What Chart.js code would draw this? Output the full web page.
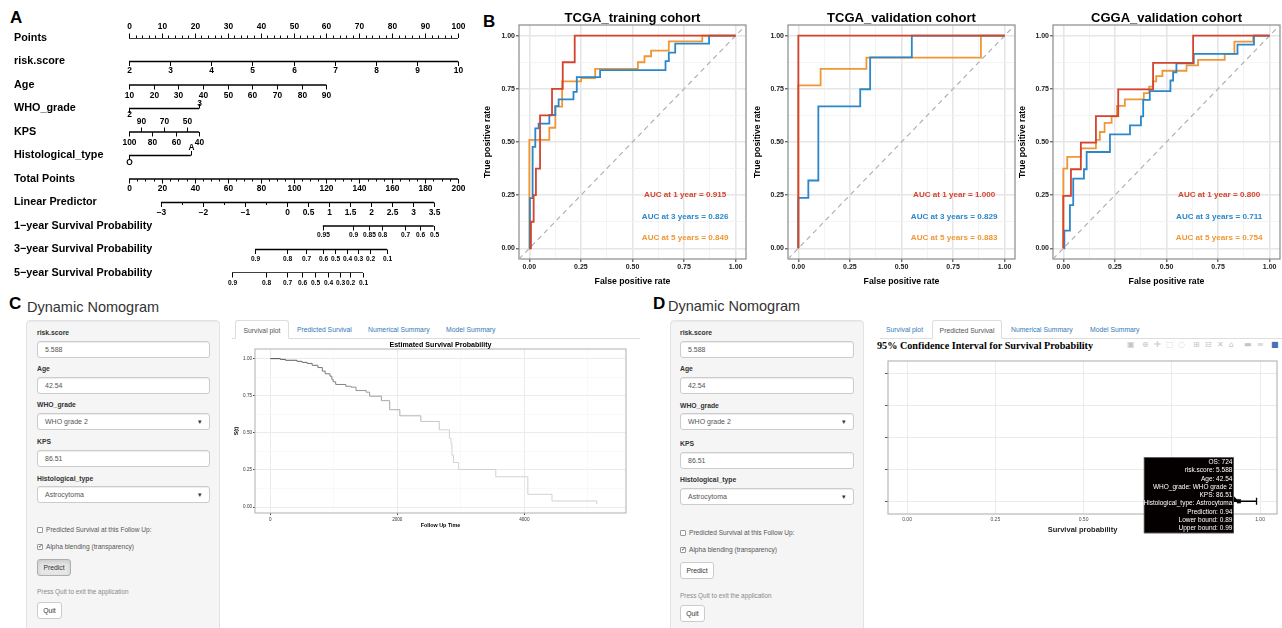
<!DOCTYPE html>
<html>
<head>
<meta charset="utf-8">
<script src="https://cdn.jsdelivr.net/npm/chart.js@4.4.1/dist/chart.umd.min.js"></script>
<style>
html,body{margin:0;padding:0;background:#fff;}
#page{position:relative;width:1282px;height:628px;overflow:hidden;font-family:"Liberation Sans",Arial,Helvetica,sans-serif;color:#333;}
#page canvas{position:absolute;}
.letter{position:absolute;font-weight:bold;font-size:17px;color:#000;line-height:20px;}
.dyn{position:absolute;font-size:14.5px;color:#333;line-height:18px;white-space:nowrap;}
.well{position:absolute;background:#f5f5f5;border:1px solid #e3e3e3;border-radius:4px;box-shadow:inset 0 1px 1px rgba(0,0,0,.05);box-sizing:border-box;}
.lbl{position:absolute;font-weight:bold;font-size:6.8px;color:#333;line-height:10px;height:10px;white-space:nowrap;}
.inp{position:absolute;background:#fff;border:1px solid #ccc;border-radius:3px;box-shadow:inset 0 1px 1px rgba(0,0,0,.075);font-size:7px;color:#555;box-sizing:border-box;padding-left:7px;line-height:15px;height:17px;white-space:nowrap;}
.arr{position:absolute;right:7px;top:0;font-size:7px;color:#333;line-height:15px;}
.cb{position:absolute;width:6px;height:6px;border:1px solid #999;background:#fff;box-sizing:border-box;border-radius:1px;}
.cbt{position:absolute;font-size:6.6px;color:#555;line-height:10px;white-space:nowrap;}
.btn{position:absolute;border:1px solid #ccc;border-radius:3px;background:#fff;font-size:6.8px;color:#333;text-align:center;line-height:15px;height:17px;box-sizing:border-box;}
.btn.pressed{background:#e6e6e6;border-color:#adadad;box-shadow:inset 0 2px 4px rgba(0,0,0,.125);}
.help{position:absolute;font-size:6.4px;color:#8a8a8a;line-height:10px;white-space:nowrap;}
.strip{position:absolute;height:0;border-bottom:1px solid #ddd;}
.tab{position:absolute;font-size:6.8px;line-height:19px;height:19px;white-space:nowrap;color:#337ab7;}
.tab.active{color:#555;background:#fff;border:1px solid #ddd;border-bottom-color:#fff;border-radius:3px 3px 0 0;box-sizing:border-box;text-align:center;}
.ci-title{position:absolute;font-family:"Liberation Serif","Times New Roman",serif;font-weight:bold;font-size:10.2px;color:#000;line-height:12px;white-space:nowrap;}
.icon{position:absolute;font-family:"DejaVu Sans",sans-serif;font-size:8px;color:#c4c4c4;line-height:10px;}
</style>
</head>
<body>
<div id="page">
  <div class="letter" style="left:10px;top:8px;">A</div>
  <canvas id="nomo" width="480" height="292" style="left:0;top:0;"></canvas>

  <div class="letter" style="left:483px;top:12px;">B</div>
  <canvas id="roc1" width="270" height="290" style="left:480px;top:0;"></canvas>
  <canvas id="roc2" width="268" height="290" style="left:750px;top:0;"></canvas>
  <canvas id="roc3" width="268" height="290" style="left:1014px;top:0;"></canvas>

  <div class="letter" style="left:9px;top:294px;">C</div>
  <div class="dyn" style="left:27px;top:298px;">Dynamic Nomogram</div>
  <div class="letter" style="left:653px;top:294px;">D</div>
  <div class="dyn" style="left:668px;top:297px;">Dynamic Nomogram</div>

  <div id="uiC"></div>
  <div id="uiD"></div>

  <canvas id="surv" width="408" height="192" style="left:232px;top:340px;"></canvas>
  <div class="ci-title" style="left:877px;top:340px;">95% Confidence Interval for Survival Probability</div>
  <div id="icons"></div>
  <canvas id="ci" width="402" height="188" style="left:880px;top:352px;"></canvas>
</div>

<script>
// ---------------- DATA ----------------
// Panel A: nomogram (tick labels and their position on the 0-100 Points scale)
const pointsLabels = [0, 10, 20, 30, 40, 50, 60, 70, 80, 90, 100];
const riskScoreLabels = ['2', '3', '4', '5', '6', '7', '8', '9', '10'];
const riskScorePoints = [0, 12.5, 25, 37.5, 50, 62.5, 75, 87.5, 100];
const ageLabels = ['10', '20', '30', '40', '50', '60', '70', '80', '90'];
const agePoints = [0, 7.5, 15, 22.5, 30, 37.5, 45, 52.5, 60];
const whoGradeLabels = ['2', '3'];
const whoGradePoints = [0, 21.3];
const kpsLabels = ['100', '90', '80', '70', '60', '50', '40'];
const kpsPoints = [0, 3.55, 7.1, 10.65, 14.2, 17.75, 21.3];
const histTypeLabels = ['O', 'A'];
const histTypePoints = [0, 18.8];
const totalPointsLabels = [0, 20, 40, 60, 80, 100, 120, 140, 160, 180, 200];
const linPredLabels = ['\u22123', '\u22122', '\u22121', '0', '0.5', '1', '1.5', '2', '2.5', '3', '3.5'];
const linPredPoints = [9.7, 22.5, 35.2, 48.0, 54.4, 60.8, 67.2, 73.6, 79.9, 86.3, 92.7];
const linPredMinorPoints = [16.1, 28.85, 41.6];
const surv1Labels = ['0.95', '0.9', '0.85', '0.8', '0.7', '0.6', '0.5'];
const surv1Points = [58.9, 68.1, 72.9, 77.0, 83.8, 88.6, 92.6];
const surv3Labels = ['0.9', '0.8', '0.7', '0.6', '0.5', '0.4', '0.3', '0.2', '0.1'];
const surv3Points = [38.3, 48.0, 53.8, 59.0, 62.6, 66.3, 69.6, 73.3, 78.4];
const surv5Labels = ['0.9', '0.8', '0.7', '0.6', '0.5', '0.4', '0.3', '0.2', '0.1'];
const surv5Points = [31.3, 41.6, 48.0, 52.6, 56.5, 60.5, 64.1, 67.2, 71.1];
const nomoRowNames = ['Points', 'risk.score', 'Age', 'WHO_grade', 'KPS', 'Histological_type', 'Total Points',
  'Linear Predictor', '1\u2212year Survival Probability', '3\u2212year Survival Probability', '5\u2212year Survival Probability'];

// Panel B: ROC curves (false positive rate / true positive rate)
const rocTitles = ['TCGA_training cohort', 'TCGA_validation cohort', 'CGGA_validation cohort'];
const aucNames = ['AUC at 1 year', 'AUC at 3 years', 'AUC at 5 years'];
const trainAuc = [0.915, 0.826, 0.849];
const tcgaValAuc = [1.000, 0.829, 0.883];
const cggaValAuc = [0.800, 0.711, 0.754];
const rocTickValues = [0, 0.125, 0.25, 0.375, 0.5, 0.625, 0.75, 0.875, 1];

const trainFpr1 = [0, 0.008, 0.021, 0.032, 0.052, 0.11, 0.162, 0.22, 1];
const trainTpr1 = [0, 0.125, 0.25, 0.375, 0.625, 0.75, 0.875, 1, 1];
const trainFpr3 = [0, 0.003, 0.016, 0.029, 0.045, 0.097, 0.126, 0.142, 0.214, 0.23, 0.343, 0.66, 0.676, 0.707, 0.871, 1];
const trainTpr3 = [0, 0.236, 0.477, 0.564, 0.586, 0.627, 0.669, 0.70, 0.736, 0.805, 0.8375, 0.88, 0.92, 0.9625, 1, 1];
const trainFpr5 = [0, 0, 0.097, 0.126, 0.159, 0.251, 0.319, 0.526, 0.558, 0.59, 0.676, 0.838, 1];
const trainTpr5 = [0, 0.51, 0.567, 0.666, 0.785, 0.80, 0.844, 0.875, 0.903, 0.93, 0.973, 1, 1];

const tcgaValFpr1 = [0, 0, 1];
const tcgaValTpr1 = [0, 1, 1];
const tcgaValFpr3 = [0, 0, 0.0485, 0.097, 0.30, 0.348, 0.55, 1];
const tcgaValTpr3 = [0, 0.2375, 0.319, 0.667, 0.748, 0.898, 1, 1];
const tcgaValFpr5 = [0, 0, 0.108, 0.33, 0.885, 1];
const tcgaValTpr5 = [0, 0.766, 0.844, 0.897, 1, 1];

const cggaFpr1 = [0, 0, 0.037, 0.085, 0.158, 0.266, 0.435, 0.629, 1];
const cggaTpr1 = [0, 0.247, 0.372, 0.497, 0.622, 0.747, 0.872, 1, 1];
const cggaFpr3 = [0, 0.005, 0.032, 0.048, 0.1, 0.113, 0.226, 0.323, 0.376, 0.387, 0.419, 0.519, 0.532, 0.548, 0.632, 0.844, 0.924, 1];
const cggaTpr3 = [0, 0.083, 0.203, 0.328, 0.372, 0.453, 0.536, 0.578, 0.62, 0.698, 0.739, 0.789, 0.828, 0.87, 0.914, 0.958, 1, 1];
const cggaFpr5 = [0, 0, 0.019, 0.085, 0.158, 0.177, 0.2, 0.234, 0.26, 0.298, 0.39, 0.416, 0.435, 0.45, 0.48, 0.597, 0.653, 0.782, 0.829, 0.92, 1];
const cggaTpr5 = [0, 0.375, 0.43, 0.47, 0.51, 0.547, 0.59, 0.62, 0.67, 0.70, 0.73, 0.76, 0.785, 0.81, 0.835, 0.86, 0.886, 0.914, 0.972, 1, 1];

// Panel C: estimated survival curve
const survTime = [0, 160, 240, 420, 500, 580, 660, 750, 820, 865, 940, 970, 990, 1030, 1190, 1270, 1350, 1510, 1565, 1750, 1880, 2040, 2370, 2660, 2820, 2845, 2860, 2885, 2965, 3550, 4055, 4435, 5140];
const survProb = [1.0, 0.995, 0.989, 0.982, 0.975, 0.968, 0.955, 0.94, 0.916, 0.898, 0.882, 0.86, 0.844, 0.826, 0.814, 0.808, 0.785, 0.774, 0.747, 0.717, 0.656, 0.615, 0.577, 0.52, 0.464, 0.43, 0.35, 0.30, 0.253, 0.204, 0.086, 0.041, 0.02];
const survXTicks = [0, 2000, 4000];
const survYTicks = [0, 0.25, 0.5, 0.75, 1];

// Panel D: 95% CI for survival probability
const ciPrediction = [0.94];
const ciLower = [0.89];
const ciUpper = [0.99];
const ciXTicks = [0, 0.25, 0.5, 0.75, 1];
const ciTooltipLines = ['OS: 724', 'risk.score: 5.588', 'Age: 42.54', 'WHO_grade: WHO grade 2', 'KPS: 86.51',
  'Histological_type: Astrocytoma', 'Prediction: 0.94', 'Lower bound: 0.89', 'Upper bound: 0.99'];

// Panels C/D: app inputs
const inputLabels = ['risk.score', 'Age', 'WHO_grade', 'KPS', 'Histological_type'];
const inputValues = ['5.588', '42.54', 'WHO grade 2', '86.51', 'Astrocytoma'];
const inputIsSelect = [false, false, true, false, true];
const tabNames = ['Survival plot', 'Predicted Survival', 'Numerical Summary', 'Model Summary'];

// ---------------- RENDERING ----------------
const SANS = '"Liberation Sans", Arial, Helvetica, sans-serif';
Chart.defaults.font.family = SANS;
Chart.defaults.color = '#000';
Chart.defaults.animation = false;

const RED = '#D5432F', BLUE = '#2A87CA', ORANGE = '#F09735';

// ---------- Panel A: nomogram ----------
const nomoRows = [
  { labels: pointsLabels.map(String), pos: pointsLabels, side: 'above', fs: 8.4, offA: 11, offB: 9, minorStep: 2, range: [0, 100] },
  { labels: riskScoreLabels, pos: riskScorePoints, side: 'below', fs: 8.4, offA: 10, offB: 9.5 },
  { labels: ageLabels, pos: agePoints, side: 'below', fs: 8.4, offA: 10, offB: 10.5 },
  { labels: whoGradeLabels, pos: whoGradePoints, side: ['below', 'above'], fs: 8.4, offA: 4.5, offB: 6 },
  { labels: kpsLabels, pos: kpsPoints, side: ['below', 'above', 'below', 'above', 'below', 'above', 'below'], fs: 8.4, offA: 10.5, offB: 10.5 },
  { labels: histTypeLabels, pos: histTypePoints, side: ['below', 'above'], fs: 8.4, offA: 8, offB: 7 },
  { labels: totalPointsLabels.map(String), pos: totalPointsLabels.map(v => v / 2), side: 'below', fs: 8.4, offA: 10, offB: 10, minorStep: 2.5, range: [0, 100] },
  { labels: linPredLabels, pos: linPredPoints, side: 'below', fs: 8.4, offA: 10, offB: 10.5, minor: linPredMinorPoints },
  { labels: surv1Labels, pos: surv1Points, side: 'below', fs: 6.6, offA: 9, offB: 9 },
  { labels: surv3Labels, pos: surv3Points, side: 'below', fs: 6.6, offA: 9, offB: 9.5 },
  { labels: surv5Labels, pos: surv5Points, side: 'below', fs: 6.6, offA: 9, offB: 10 }
];

const nomoPlugin = {
  id: 'nomo',
  afterDatasetsDraw(chart) {
    const { ctx, scales: { x, y } } = chart;
    ctx.save();
    ctx.fillStyle = '#000';
    ctx.strokeStyle = '#000';
    ctx.lineWidth = 1;
    nomoRows.forEach((row, i) => {
      const ly = y.getPixelForValue(i);
      ctx.font = 'bold 10.8px ' + SANS;
      ctx.textAlign = 'left';
      ctx.textBaseline = 'middle';
      ctx.fillText(nomoRowNames[i], 14, ly);
      const sideOf = k => Array.isArray(row.side) ? row.side[k] : row.side;
      const minors = [];
      if (row.minorStep) {
        for (let v = row.range[0]; v <= row.range[1] + 1e-9; v += row.minorStep) minors.push(v);
      }
      if (row.minor) minors.push(...row.minor);
      minors.forEach(v => {
        const px = Math.round(x.getPixelForValue(v)) + 0.5;
        const d = sideOf(0) === 'above' ? -1 : 1;
        ctx.beginPath(); ctx.moveTo(px, ly); ctx.lineTo(px, ly + d * 2.5); ctx.stroke();
      });
      row.pos.forEach((p, k) => {
        const s = sideOf(k);
        const d = s === 'above' ? -1 : 1;
        const px = Math.round(x.getPixelForValue(p)) + 0.5;
        ctx.beginPath(); ctx.moveTo(px, ly); ctx.lineTo(px, ly + d * 4.5); ctx.stroke();
        ctx.font = 'bold ' + row.fs + 'px ' + SANS;
        ctx.textAlign = 'center';
        ctx.fillText(row.labels[k], px, ly + (s === 'above' ? -row.offA : row.offB));
      });
    });
    ctx.restore();
  }
};

new Chart(document.getElementById('nomo'), {
  type: 'scatter',
  data: {
    datasets: nomoRows.map((row, i) => ({
      data: [{ x: Math.min(...row.pos), y: i }, { x: Math.max(...row.pos), y: i }],
      showLine: true, borderColor: '#000', borderWidth: 1.4, pointRadius: 0
    }))
  },
  options: {
    responsive: false,
    layout: { padding: { left: 129, right: 22, top: 38, bottom: 19 } },
    plugins: { legend: { display: false }, tooltip: { enabled: false } },
    scales: {
      x: { type: 'linear', min: 0, max: 100, display: false },
      y: { type: 'linear', min: 0, max: 10, reverse: true, display: false }
    }
  },
  plugins: [nomoPlugin]
});

// ---------- Panel B: ROC ----------
const isMajor = v => Math.abs(v * 4 - Math.round(v * 4)) < 1e-6;
const toPts = (xs, ys) => xs.map((v, i) => ({ x: v, y: ys[i] }));

function rocChart(id, title, curves, aucVals, yAxisW, rightPad, yTitlePad) {
  const colors = [RED, BLUE, ORANGE];
  const datasets = curves.map((c, k) => ({
    data: toPts(c[0], c[1]), showLine: true, stepped: 'before',
    borderColor: colors[k], borderWidth: 1.8, pointRadius: 0
  }));
  datasets.push({
    data: [{ x: -0.05, y: -0.05 }, { x: 1.05, y: 1.05 }], showLine: true,
    borderColor: '#ABABAB', borderWidth: 1.1, borderDash: [5, 4], pointRadius: 0
  });
  const plug = {
    id: 'rocDeco',
    beforeDatasetsDraw(chart) {
      const { ctx, chartArea: a } = chart;
      ctx.save();
      ctx.strokeStyle = '#8A8A8A'; ctx.lineWidth = 1.2;
      ctx.strokeRect(a.left, a.top, a.right - a.left, a.bottom - a.top);
      ctx.restore();
    },
    afterDatasetsDraw(chart) {
      const { ctx, chartArea: a, scales: { x, y } } = chart;
      ctx.save();
      ctx.font = 'bold 8.1px ' + SANS;
      ctx.textAlign = 'center'; ctx.textBaseline = 'middle';
      const ys = [0.25, 0.15, 0.05];
      aucVals.forEach((v, k) => {
        ctx.fillStyle = colors[k];
        ctx.fillText(aucNames[k] + ' = ' + v.toFixed(3), x.getPixelForValue(0.755), y.getPixelForValue(ys[k]));
      });
      ctx.fillStyle = '#000';
      ctx.font = 'bold 13px ' + SANS;
      ctx.fillText(title, (a.left + a.right) / 2, 18);
      ctx.restore();
    }
  };
  const axis = (isX) => ({
    type: 'linear', min: -0.05, max: 1.05,
    afterBuildTicks: s => { s.ticks = rocTickValues.map(v => ({ value: v })); },
    afterFit: s => { if (isX) s.height = 31; else s.width = yAxisW; },
    border: { display: false },
    grid: {
      color: c => isMajor(c.tick.value) ? '#E6E6E6' : '#F1F1F1',
      lineWidth: c => isMajor(c.tick.value) ? 1.6 : 0.8,
      drawTicks: true, tickLength: 3,
      tickColor: c => isMajor(c.tick.value) ? '#333' : 'rgba(0,0,0,0)', tickWidth: 1
    },
    ticks: {
      autoSkip: false, maxRotation: 0, padding: 1,
      font: { size: 7, weight: 'bold' }, color: '#222',
      callback: v => isMajor(v) ? v.toFixed(2) : ''
    },
    title: {
      display: true, text: isX ? 'False positive rate' : 'True positive rate',
      font: { size: 8.7, weight: 'bold' }, color: '#000',
      padding: isX ? { top: 0, bottom: 3 } : { top: yTitlePad, bottom: 0 }
    }
  });
  new Chart(document.getElementById(id), {
    type: 'scatter',
    data: { datasets },
    options: {
      responsive: false,
      layout: { padding: { left: 0, right: rightPad, top: 25, bottom: 0 } },
      plugins: { legend: { display: false }, tooltip: { enabled: false } },
      scales: { x: axis(true), y: axis(false) }
    },
    plugins: [plug]
  });
}

rocChart('roc1', rocTitles[0], [[trainFpr1, trainTpr1], [trainFpr3, trainTpr3], [trainFpr5, trainTpr5]], trainAuc, 39, 4, 2);
rocChart('roc2', rocTitles[1], [[tcgaValFpr1, tcgaValTpr1], [tcgaValFpr3, tcgaValTpr3], [tcgaValFpr5, tcgaValTpr5]], tcgaValAuc, 38, 3, 2);
rocChart('roc3', rocTitles[2], [[cggaFpr1, cggaTpr1], [cggaFpr3, cggaTpr3], [cggaFpr5, cggaTpr5]], cggaValAuc, 39, 2, 3);

// ---------- Panels C/D: app UI ----------
function buildUI(rootId, P) {
  const root = document.getElementById(rootId);
  let h = '';
  h += `<div class="well" style="left:${P.wl}px;top:320px;width:${P.ww}px;height:320px;"></div>`;
  inputLabels.forEach((lab, i) => {
    h += `<div class="lbl" style="left:${P.il}px;top:${P.ly[i] - 5}px;">${lab}</div>`;
    h += `<div class="inp" style="left:${P.il}px;top:${P.iy[i]}px;width:${P.iw}px;">${inputValues[i]}` +
      (inputIsSelect[i] ? '<span class="arr">\u25BE</span>' : '') + '</div>';
  });
  h += `<div class="cb" style="left:${P.il}px;top:${P.cb[0] - 3}px;"></div>`;
  h += `<div class="cbt" style="left:${P.il + 9}px;top:${P.cb[0] - 5}px;">Predicted Survival at this Follow Up:</div>`;
  h += `<div class="cb" style="left:${P.il}px;top:${P.cb[1] - 3}px;"><span style="position:absolute;left:0px;top:-3px;font-size:6px;color:#333;">\u2713</span></div>`;
  h += `<div class="cbt" style="left:${P.il + 9}px;top:${P.cb[1] - 5}px;">Alpha blending (transparency)</div>`;
  h += `<div class="btn${P.pressed ? ' pressed' : ''}" style="left:${P.il}px;top:${P.pb}px;width:34px;">Predict</div>`;
  h += `<div class="help" style="left:${P.il}px;top:${P.hq - 5}px;">Press Quit to exit the application</div>`;
  h += `<div class="btn" style="left:${P.il}px;top:${P.qb}px;width:25px;">Quit</div>`;
  h += `<div class="strip" style="left:${P.sl}px;top:338px;width:${P.sw}px;"></div>`;
  tabNames.forEach((t, i) => {
    if (i === P.active) {
      h += `<div class="tab active" style="left:${P.tx[i]}px;top:320px;width:${P.aw}px;">${t}</div>`;
    } else {
      h += `<div class="tab" style="left:${P.tx[i]}px;top:320px;">${t}</div>`;
    }
  });
  root.innerHTML = h;
}

buildUI('uiC', { wl: 26, ww: 194, il: 37, iw: 173, ly: [333, 369, 405, 442, 479], iy: [341, 377, 413, 450, 486],
  cb: [530, 547], pb: 559, hq: 592, qb: 602, pressed: true, sl: 232, sw: 408, active: 0, tx: [235, 297, 368, 446], aw: 54 });
buildUI('uiD', { wl: 670, ww: 194, il: 680, iw: 174, ly: [333, 369, 406, 444, 480], iy: [341, 377, 413, 452, 488],
  cb: [533, 550], pb: 562, hq: 596, qb: 605, pressed: false, sl: 880, sw: 402, active: 1, tx: [886, 932, 1011, 1090], aw: 70 });

// plotly toolbar glyphs
(function () {
  const glyphs = ['\u25A3', '\u2295', '\u271B', '\u2B1A', '\u25CC', '\u229E', '\u229F', '\u2715', '\u2302', '\u25AC', '\u2261', '\u25A0'];
  const xs = [1127, 1142, 1154, 1166, 1178, 1193, 1205, 1217, 1229, 1244, 1257, 1271];
  let h = '';
  glyphs.forEach((g, i) => {
    const col = i === glyphs.length - 1 ? '#4a6fb5' : '#c4c4c4';
    h += `<div class="icon" style="left:${xs[i]}px;top:340px;color:${col};">${g}</div>`;
  });
  document.getElementById('icons').innerHTML = h;
})();

// ---------- Panel C: survival curve ----------
const survShade = t => { const k = Math.min(1, t / 2600); const v = Math.round(80 + k * 130); return `rgb(${v},${v},${v})`; };
const survPlug = {
  id: 'survDeco',
  beforeDatasetsDraw(chart) {
    const { ctx, chartArea: a } = chart;
    ctx.save(); ctx.strokeStyle = '#BDBDBD'; ctx.lineWidth = 1.2;
    ctx.strokeRect(a.left, a.top, a.right - a.left, a.bottom - a.top); ctx.restore();
  },
  afterDraw(chart) {
    const { ctx, chartArea: a } = chart;
    ctx.save(); ctx.fillStyle = '#000'; ctx.font = 'bold 7.1px ' + SANS;
    ctx.textAlign = 'center'; ctx.textBaseline = 'middle';
    ctx.fillText('Estimated Survival Probability', (a.left + a.right) / 2, 5);
    ctx.restore();
  }
};
const survMajorX = v => survXTicks.includes(v);
const survMajorY = v => survYTicks.some(t => Math.abs(t - v) < 1e-9);
new Chart(document.getElementById('surv'), {
  type: 'scatter',
  data: {
    datasets: [{
      data: toPts(survTime, survProb), showLine: true, stepped: 'before', borderWidth: 1, pointRadius: 0,
      borderColor: '#777', segment: { borderColor: c => survShade(c.p0.parsed.x) }
    }]
  },
  options: {
    responsive: false,
    layout: { padding: { left: 0, right: 14, top: 9, bottom: 0 } },
    plugins: { legend: { display: false }, tooltip: { enabled: false } },
    scales: {
      x: {
        type: 'linear', min: -240, max: 5600,
        afterBuildTicks: s => { s.ticks = [0, 1000, 2000, 3000, 4000, 5000].map(v => ({ value: v })); },
        afterFit: s => { s.height = 19; },
        border: { display: false },
        grid: { color: c => survMajorX(c.tick.value) ? '#EBEBEB' : '#F5F5F5', lineWidth: c => survMajorX(c.tick.value) ? 1 : 0.6,
          drawTicks: true, tickLength: 2, tickColor: c => survMajorX(c.tick.value) ? '#444' : 'rgba(0,0,0,0)' },
        ticks: { autoSkip: false, maxRotation: 0, padding: 1.5, font: { size: 4.6 }, color: '#333', callback: v => survMajorX(v) ? String(v) : '' },
        title: { display: true, text: 'Follow Up Time', font: { size: 5.4, weight: 'bold' }, padding: { top: 0, bottom: 3.5 } }
      },
      y: {
        type: 'linear', min: -0.04, max: 1.065,
        afterBuildTicks: s => { s.ticks = [0, 0.125, 0.25, 0.375, 0.5, 0.625, 0.75, 0.875, 1].map(v => ({ value: v })); },
        afterFit: s => { s.width = 23; },
        border: { display: false },
        grid: { color: c => survMajorY(c.tick.value) ? '#EBEBEB' : '#F5F5F5', lineWidth: c => survMajorY(c.tick.value) ? 1 : 0.6,
          drawTicks: true, tickLength: 2, tickColor: c => survMajorY(c.tick.value) ? '#444' : 'rgba(0,0,0,0)' },
        ticks: { autoSkip: false, padding: 1, font: { size: 4.6 }, color: '#333', callback: v => survMajorY(v) ? v.toFixed(2) : '' },
        title: { display: true, text: 'S(t)', font: { size: 5.2, weight: 'bold' }, padding: { top: 1.5, bottom: 0 } }
      }
    }
  },
  plugins: [survPlug]
});

// ---------- Panel D: confidence interval ----------
const ciPlug = {
  id: 'ciDeco',
  beforeDatasetsDraw(chart) {
    const { ctx, chartArea: a, scales: { x, y } } = chart;
    ctx.save(); ctx.strokeStyle = '#B8B8B8'; ctx.lineWidth = 1.2;
    ctx.strokeRect(a.left, a.top, a.right - a.left, a.bottom - a.top);
    ctx.strokeStyle = '#000'; ctx.lineWidth = 1.3;
    ciPrediction.forEach((p, i) => {
      const py = y.getPixelForValue(i + 1);
      const l = x.getPixelForValue(ciLower[i]), u = x.getPixelForValue(ciUpper[i]);
      ctx.beginPath(); ctx.moveTo(l, py); ctx.lineTo(u, py);
      ctx.moveTo(l, py - 3.5); ctx.lineTo(l, py + 3.5);
      ctx.moveTo(u, py - 3.5); ctx.lineTo(u, py + 3.5); ctx.stroke();
    });
    ctx.restore();
  },
  afterDatasetsDraw(chart) {
    const { ctx, scales: { x, y } } = chart;
    const px = x.getPixelForValue(ciPrediction[0]), py = y.getPixelForValue(1);
    const right = px - 5, w = 90, top = py - 44, hgt = 76;
    ctx.save();
    ctx.fillStyle = '#050000';
    ctx.fillRect(right - w, top, w, hgt);
    ctx.strokeStyle = '#777'; ctx.lineWidth = 0.6; ctx.strokeRect(right - w + 0.3, top + 0.3, w - 0.6, hgt - 0.6);
    ctx.fillStyle = '#050000';
    ctx.beginPath(); ctx.moveTo(right, py - 5); ctx.lineTo(right + 4, py - 1); ctx.lineTo(right, py + 1); ctx.fill();
    ctx.fillStyle = '#fff'; ctx.font = '6.5px ' + SANS; ctx.textAlign = 'right'; ctx.textBaseline = 'middle';
    ciTooltipLines.forEach((t, i) => ctx.fillText(t, right - 1.5, top + 5 + i * 8.25));
    ctx.restore();
  }
};
new Chart(document.getElementById('ci'), {
  type: 'scatter',
  data: {
    datasets: [{
      data: ciPrediction.map((p, i) => ({ x: p, y: i + 1 })),
      pointStyle: 'rect', pointRadius: 2.6, backgroundColor: '#000', borderColor: '#000', borderWidth: 0.5
    }]
  },
  options: {
    responsive: false,
    layout: { padding: { left: 0, right: 5, top: 9, bottom: 0 } },
    plugins: { legend: { display: false }, tooltip: { enabled: false } },
    scales: {
      x: {
        type: 'linear', min: -0.054, max: 1.048,
        afterBuildTicks: s => { s.ticks = ciXTicks.map(v => ({ value: v })); },
        afterFit: s => { s.height = 26; },
        border: { display: false },
        grid: { color: '#EBEBEB', lineWidth: 1, drawTicks: false },
        ticks: { autoSkip: false, maxRotation: 0, padding: 3, font: { size: 5 }, color: '#4d4d4d', callback: v => v.toFixed(2) },
        title: { display: true, text: 'Survival probability', font: { size: 7.5, weight: 'bold' }, color: '#222', padding: { top: 0, bottom: 5.5 } }
      },
      y: {
        type: 'linear', min: 0.6, max: 5.4,
        afterBuildTicks: s => { s.ticks = [1, 2, 3, 4, 5].map(v => ({ value: v })); },
        afterFit: s => { s.width = 8; },
        border: { display: false },
        grid: { color: '#EBEBEB', lineWidth: 1, drawTicks: true, tickLength: 3, tickColor: '#555' },
        ticks: { display: true, padding: 0, font: { size: 5 }, callback: () => '' }
      }
    }
  },
  plugins: [ciPlug]
});
</script>
</body>
</html>
